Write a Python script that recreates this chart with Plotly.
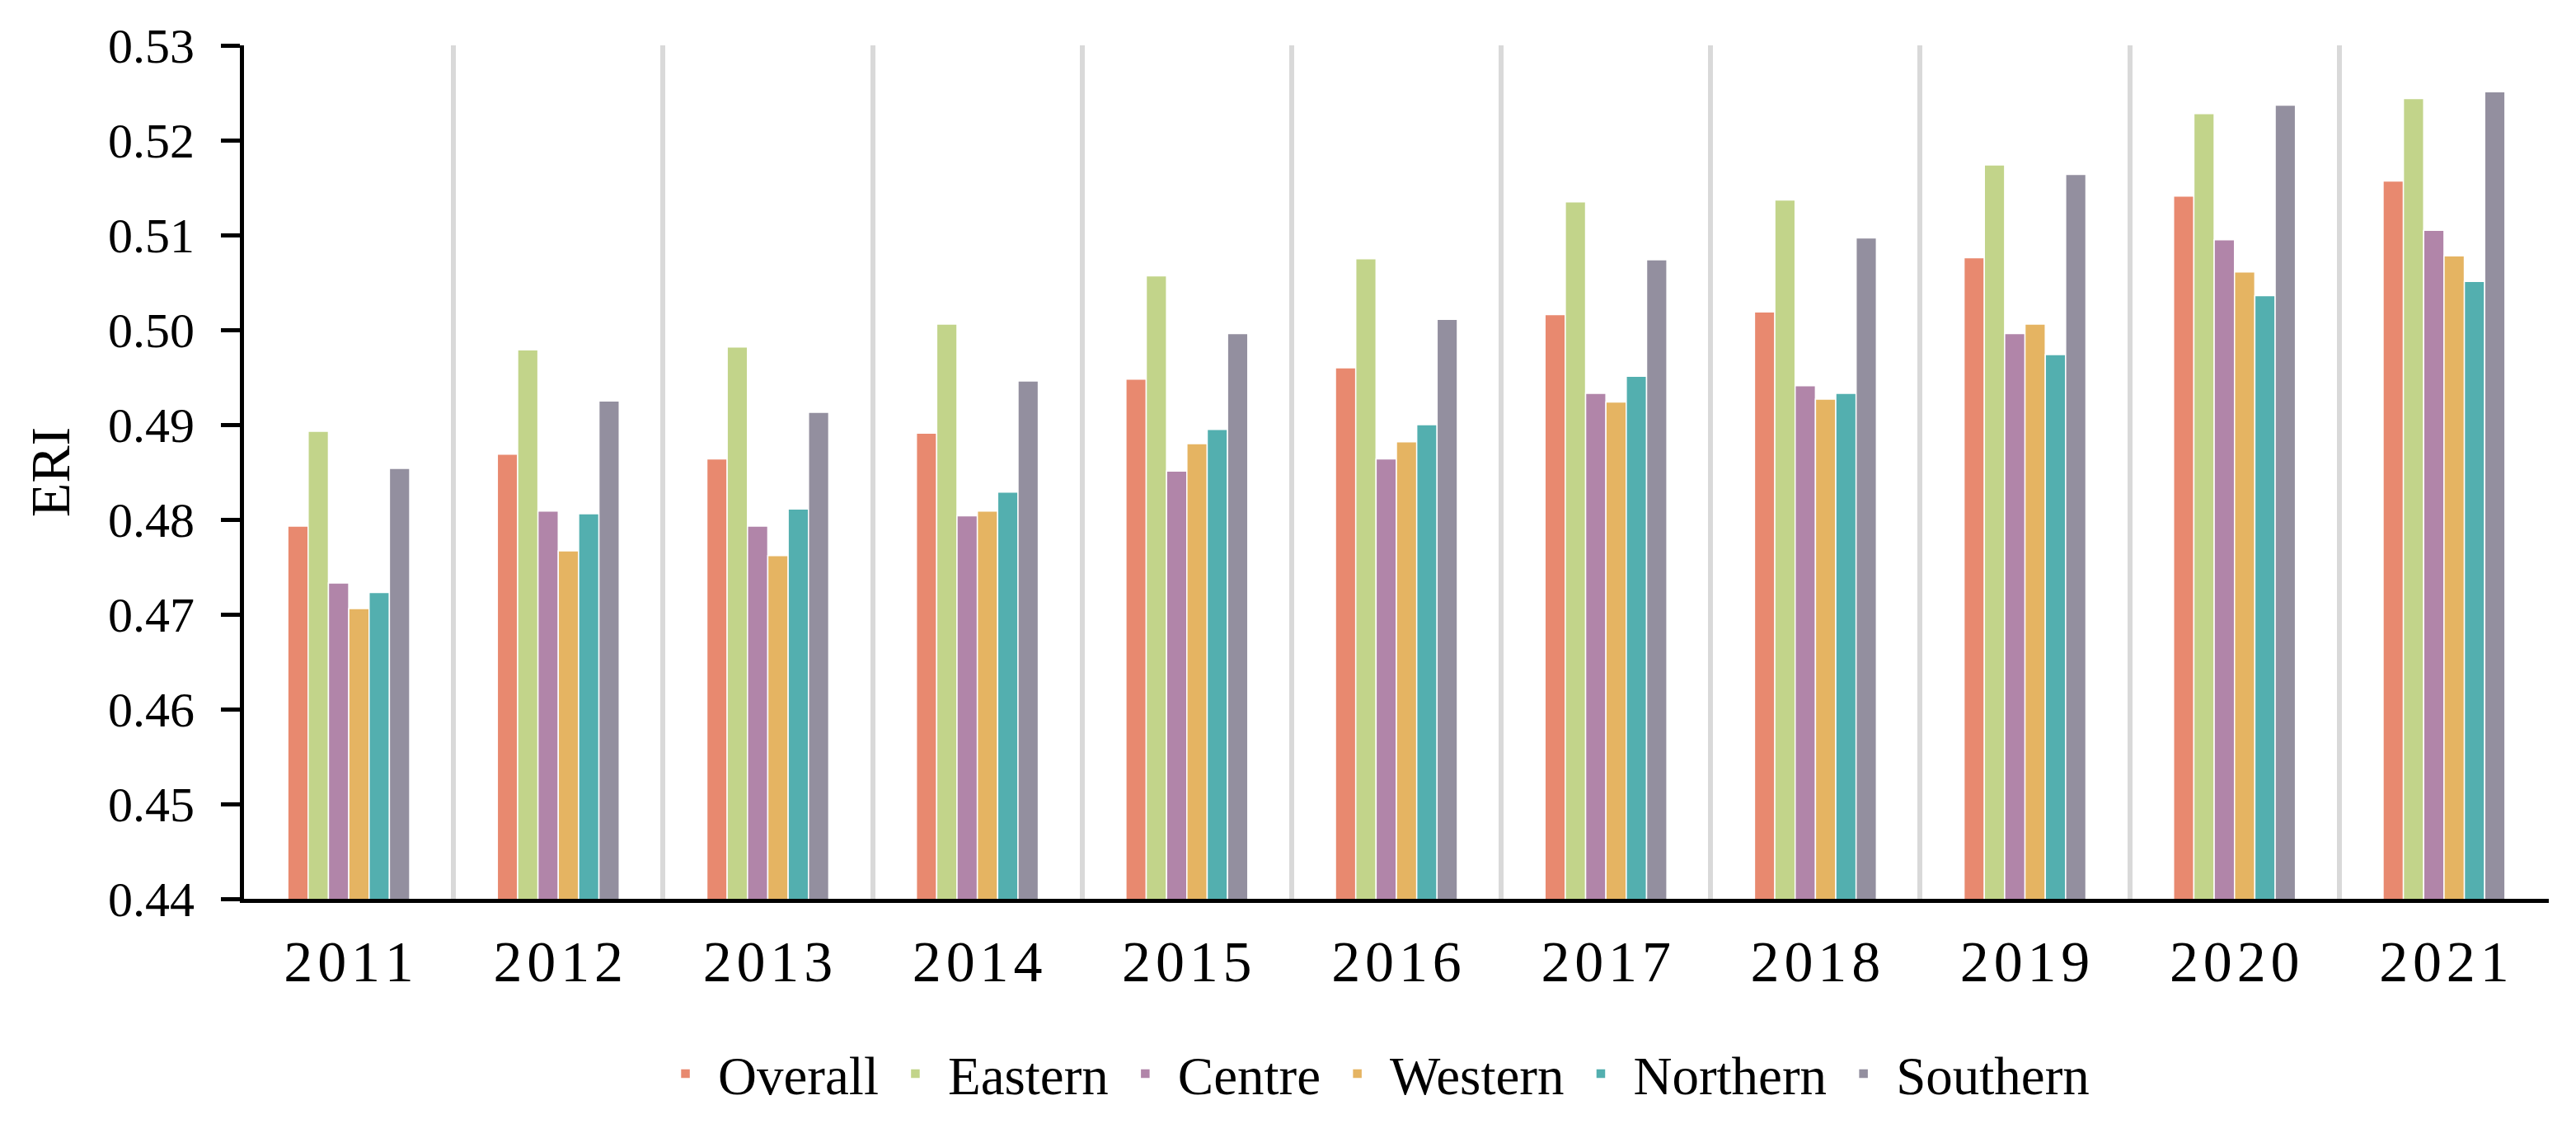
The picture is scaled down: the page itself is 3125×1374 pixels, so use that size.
import plotly.graph_objects as go

years = ["2011", "2012", "2013", "2014", "2015", "2016", "2017", "2018", "2019", "2020", "2021"]
series_names = ["Overall", "Eastern", "Centre", "Western", "Northern", "Southern"]
colors = ["#E8896F", "#C2D48A", "#B185A9", "#E5B462", "#53AFAF", "#938F9F"]

overall  = [0.4793, 0.4869, 0.4864, 0.4891, 0.4948, 0.4960, 0.5016, 0.5019, 0.5076, 0.5141, 0.5157]
eastern  = [0.4893, 0.4979, 0.4982, 0.5006, 0.5057, 0.5075, 0.5135, 0.5137, 0.5174, 0.5228, 0.5244]
centre   = [0.4733, 0.4809, 0.4793, 0.4804, 0.4851, 0.4864, 0.4933, 0.4941, 0.4996, 0.5095, 0.5105]
western  = [0.4706, 0.4767, 0.4762, 0.4809, 0.4880, 0.4882, 0.4924, 0.4927, 0.5006, 0.5061, 0.5078]
northern = [0.4723, 0.4806, 0.4811, 0.4829, 0.4895, 0.4900, 0.4951, 0.4933, 0.4974, 0.5036, 0.5051]
southern = [0.4854, 0.4925, 0.4913, 0.4946, 0.4996, 0.5011, 0.5074, 0.5097, 0.5164, 0.5237, 0.5251]

series_values = [overall, eastern, centre, western, northern, southern]

y_min, y_max, y_step = 0.44, 0.53, 0.01

FONT = "Liberation Serif, Times New Roman, serif"

positions = list(range(len(years)))
boundaries = [i + 0.5 for i in positions]
year_text = ["\u200a".join(y) for y in years]

fig = go.Figure()
for name, vals, col in zip(series_names, series_values, colors):
    fig.add_trace(go.Bar(
        x=positions, y=vals, name=name,
        marker=dict(color=col, line=dict(color="white", width=1.5)),
    ))

fig.update_layout(
    width=3125, height=1374,
    margin=dict(l=288, r=41, t=47, b=292, autoexpand=False),
    paper_bgcolor="white", plot_bgcolor="white",
    barmode="group", bargap=0.418, bargroupgap=0,
    font=dict(family=FONT, color="black", size=60),
    showlegend=True,
    legend=dict(
        orientation="h", xanchor="center", x=0.49,
        yanchor="middle", y=-0.205,
        font=dict(family=FONT, size=65, color="black"),
        itemwidth=69, bgcolor="rgba(0,0,0,0)",
    ),
    xaxis=dict(
        range=[-0.5, len(years) - 0.5],
        tickmode="array", tickvals=positions, ticktext=year_text,
        ticks="", showgrid=False, zeroline=False,
        showline=True, linecolor="black", linewidth=5,
        tickfont=dict(family=FONT, size=70, color="black"),
        ticklabelstandoff=11,
        minor=dict(tickmode="array", tickvals=boundaries, showgrid=True,
                   gridcolor="#d9d9d9", gridwidth=6, ticks=""),
    ),
    yaxis=dict(
        range=[y_min, y_max + 1e-9],
        tickmode="linear", tick0=y_min, dtick=y_step,
        tickformat=".2f",
        ticks="outside", ticklen=23, tickwidth=5, tickcolor="black",
        showline=True, linecolor="black", linewidth=5,
        showgrid=False, zeroline=False,
        tickfont=dict(family=FONT, size=60, color="black"),
        ticklabelstandoff=20,
        title=dict(text="ERI", font=dict(family=FONT, size=68, color="black"), standoff=26),
    ),
)

fig.write_html("out.html")
